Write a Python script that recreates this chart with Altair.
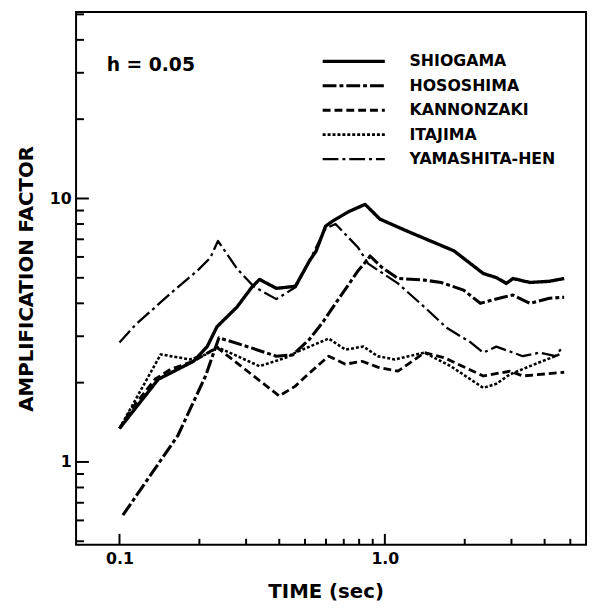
import altair as alt
import pandas as pd

stations = ["SHIOGAMA", "HOSOSHIMA", "KANNONZAKI", "ITAJIMA", "YAMASHITA-HEN"]

shiogama_t = [0.1, 0.14, 0.19, 0.214, 0.233, 0.277, 0.315, 0.337, 0.39, 0.46, 0.52, 0.55, 0.598, 0.635,
              0.728, 0.843, 0.958, 1.22, 1.82, 2.35, 2.63, 2.87, 3.04, 3.52, 4.17, 4.74]
shiogama_a = [1.34, 2.06, 2.41, 2.74, 3.26, 3.87, 4.6, 4.93, 4.56, 4.64, 5.8, 6.3, 7.85, 8.2,
              8.9, 9.5, 8.35, 7.5, 6.33, 5.19, 5.01, 4.76, 4.97, 4.8, 4.85, 4.97]

hososhima_t = [0.103, 0.166, 0.211, 0.237, 0.30, 0.39, 0.45, 0.518, 0.585, 0.652, 0.794, 0.865, 0.88,
               0.97, 1.12, 1.41, 1.63, 1.98, 2.29, 2.79, 3.04, 3.52, 4.17, 4.74]
hososhima_a = [0.628, 1.26, 2.12, 2.96, 2.75, 2.52, 2.55, 2.91, 3.4, 4.0, 5.33, 5.9, 6.05,
               5.5, 4.97, 4.9, 4.8, 4.49, 4.0, 4.22, 4.3, 4.0, 4.18, 4.22]

kannonzaki_t = [0.1, 0.111, 0.136, 0.156, 0.19, 0.233, 0.4, 0.46, 0.505, 0.614, 0.71, 0.82, 0.94,
                1.12, 1.41, 1.67, 2.35, 2.96, 3.31, 4.74]
kannonzaki_a = [1.34, 1.59, 2.06, 2.25, 2.41, 2.72, 1.78, 1.94, 2.12, 2.52, 2.35, 2.41, 2.29,
                2.21, 2.6, 2.49, 2.12, 2.21, 2.12, 2.19]

itajima_t = [0.1, 0.143, 0.184, 0.21, 0.235, 0.337, 0.43, 0.46, 0.614, 0.71, 0.83, 0.94, 1.09,
             1.41, 1.77, 2.35, 2.63, 2.96, 3.52, 4.55]
itajima_a = [1.34, 2.56, 2.45, 2.55, 2.72, 2.31, 2.5, 2.6, 2.94, 2.67, 2.74, 2.52, 2.45,
             2.6, 2.31, 1.91, 1.98, 2.15, 2.31, 2.56]

yamashita_t = [0.1, 0.115, 0.161, 0.197, 0.22, 0.235, 0.277, 0.32, 0.39, 0.46, 0.505, 0.55, 0.598,
               0.652, 0.794, 0.865, 1.12, 1.41, 1.71, 2.11, 2.35, 2.63, 3.31, 3.83, 4.4, 4.66]
yamashita_a = [2.84, 3.32, 4.49, 5.33, 5.96, 6.9, 5.42, 4.64, 4.15, 4.6, 5.47, 6.5, 7.7,
               8.0, 6.5, 5.66, 4.76, 3.87, 3.23, 2.84, 2.6, 2.74, 2.52, 2.6, 2.52, 2.72]

y_major = [1, 10]
y_minor = [0.5, 0.6, 0.7, 0.8, 0.9, 2, 3, 4, 5, 6, 7, 8, 9, 20, 30, 40, 50]
x_major = [0.1, 1]
x_minor = [0.2, 0.3, 0.4, 0.5, 0.6, 0.7, 0.8, 0.9, 2, 3, 4, 5]
x_labels = [0.1, 1]
y_labels = [1, 10]
annotation = ["h = 0.05"]

series_t = [shiogama_t, hososhima_t, kannonzaki_t, itajima_t, yamashita_t]
series_a = [shiogama_a, hososhima_a, kannonzaki_a, itajima_a, yamashita_a]
rows = []
for name, ts, vals in zip(stations, series_t, series_a):
    for t, a in zip(ts, vals):
        rows.append({"station": name, "T": t, "A": a})
df = pd.DataFrame(rows)

FONT = "DejaVu Sans"
W, H = 517, 540

dash_scale = alt.Scale(domain=stations,
                       range=[[1, 0], [14, 3, 4, 3], [8, 4], [3, 2], [16, 4, 3, 4]])
width_scale = alt.Scale(domain=stations, range=[3.4, 2.3, 2.3, 2.3, 2.3])
xscale = alt.Scale(type="log", domain=[0.0686, 5.73], nice=False)
yscale = alt.Scale(type="log", domain=[0.485, 51], nice=False)

xaxis = alt.Axis(
    values=x_labels, format=".1f", ticks=False, domain=False, grid=False,
    labelPadding=6, labelFontSize=16, labelFontWeight="bold", labelFont=FONT,
    labelColor="black", title="TIME (sec)", titleFontSize=20, titleFontWeight="bold",
    titleFont=FONT, titleColor="black", titleX=253, titleY=53, titleBaseline="alphabetic")
yaxis = alt.Axis(
    values=y_labels, format="~g", ticks=False, domain=False, grid=False,
    labelPadding=5, labelFontSize=16, labelFontWeight="bold", labelFont=FONT,
    labelColor="black", title="AMPLIFICATION FACTOR", titleFontSize=20,
    titleFontWeight="bold", titleFont=FONT, titleColor="black",
    titleX=-44, titleY=270, titleBaseline="alphabetic")

lines = alt.Chart(df).mark_line(color="black", strokeJoin="round").encode(
    x=alt.X("T:Q", scale=xscale, axis=xaxis),
    y=alt.Y("A:Q", scale=yscale, axis=yaxis),
    strokeDash=alt.StrokeDash("station:N", scale=dash_scale, legend=None),
    strokeWidth=alt.StrokeWidth("station:N", scale=width_scale, legend=None),
    detail="station:N",
)

def ytick(vals, length):
    return alt.Chart(pd.DataFrame({"A": vals})).mark_rule(color="black", strokeWidth=2).encode(
        y=alt.Y("A:Q", scale=yscale, axis=yaxis), x=alt.value(0), x2=alt.value(length))

def xtick(vals, length):
    return alt.Chart(pd.DataFrame({"T": vals})).mark_rule(color="black", strokeWidth=2).encode(
        x=alt.X("T:Q", scale=xscale, axis=xaxis), y=alt.value(H), y2=alt.value(H - length))

ann = alt.Chart(pd.DataFrame({"t": annotation})).mark_text(
    align="left", baseline="middle", fontSize=19, fontWeight="bold", font=FONT, color="black"
).encode(text="t:N", x=alt.value(31), y=alt.value(54))

legend_layers = []
for i, name in enumerate(stations):
    yy = 50 + i * 24.75
    d = pd.DataFrame({"station": [name]})
    legend_layers.append(alt.Chart(d).mark_rule(color="black").encode(
        x=alt.value(250), x2=alt.value(313), y=alt.value(yy),
        strokeDash=alt.StrokeDash("station:N", scale=dash_scale, legend=None),
        strokeWidth=alt.StrokeWidth("station:N", scale=width_scale, legend=None)))
    legend_layers.append(alt.Chart(d).mark_text(
        align="left", baseline="middle", fontSize=16, fontWeight="bold", font=FONT, color="black"
    ).encode(text="station:N", x=alt.value(338), y=alt.value(yy)))

chart = alt.layer(
    lines, ytick(y_major, 13), ytick(y_minor, 8), xtick(x_major, 11), xtick(x_minor, 6),
    ann, *legend_layers
).properties(
    width=W, height=H,
    autosize=alt.AutoSizeParams(type="none"),
    padding={"left": 69, "top": 0, "right": 3, "bottom": 60},
).configure_view(stroke="black", strokeWidth=2)

chart.save("out.html", embed_options={"renderer": "svg", "actions": False})
